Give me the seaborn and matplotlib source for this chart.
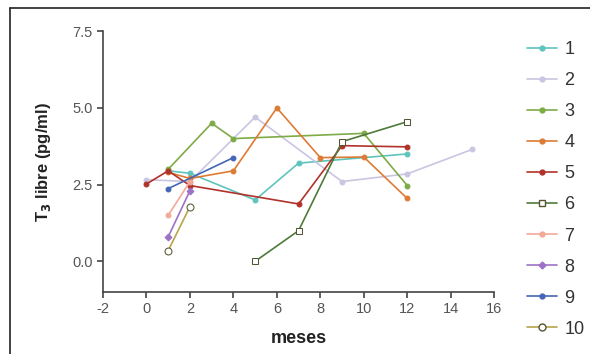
import numpy as np
import pandas as pd
import matplotlib
matplotlib.use("Agg")
import matplotlib.pyplot as plt
import seaborn as sns
from matplotlib.lines import Line2D

sns.set_theme(style="white")
plt.rcParams["font.family"] = ["Liberation Sans", "DejaVu Sans"]
plt.rcParams["axes.unicode_minus"] = False

# --- data ---
labels = ["1", "2", "3", "4", "5", "6", "7", "8", "9", "10"]
x1 = [1, 2, 5, 7, 12];            y1 = [2.95, 2.87, 2.0, 3.2, 3.5]
x2 = [0, 2, 5, 9, 12, 15];        y2 = [2.66, 2.6, 4.7, 2.6, 2.85, 3.65]
x3 = [1, 3, 4, 10, 12];           y3 = [3.0, 4.5, 4.0, 4.17, 2.47]
x4 = [1, 2, 4, 6, 8, 10, 12];     y4 = [2.9, 2.7, 2.95, 5.0, 3.38, 3.4, 2.05]
x5 = [0, 1, 2, 7, 9, 12];         y5 = [2.52, 2.95, 2.47, 1.87, 3.77, 3.73]
x6 = [5, 7, 9, 12];               y6 = [0.0, 1.0, 3.9, 4.55]
x7 = [1, 2];                      y7 = [1.5, 2.6]
x8 = [1, 2];                      y8 = [0.8, 2.3]
x9 = [1, 4];                      y9 = [2.37, 3.38]
x10 = [1, 2];                     y10 = [0.35, 1.78]

xs = [x1, x2, x3, x4, x5, x6, x7, x8, x9, x10]
ys = [y1, y2, y3, y4, y5, y6, y7, y8, y9, y10]

colors = ["#5ec4bd", "#c9c5e2", "#7dab45", "#dd7b35", "#b0322a",
          "#4f7a3a", "#f2a998", "#9d72c4", "#4466b4", "#b8a44a"]
markers = ["o", "o", "o", "o", "o", "s", "o", "D", "o", "o"]
open_marker = [False, False, False, False, False, True, False, False, False, True]


def mstyle(i):
    return dict(marker=markers[i], markersize=5 if open_marker[i] else 3.5,
                markerfacecolor="white" if open_marker[i] else colors[i],
                markeredgecolor="#555533" if open_marker[i] else colors[i])


fig = plt.figure(figsize=(5.9, 3.54), dpi=100)
ax = fig.add_axes([0.1746, 0.175, 0.8375 - 0.1746, 0.912 - 0.175])

for i, lab in enumerate(labels):
    df = pd.DataFrame({"x": xs[i], "y": ys[i]})
    sns.lineplot(data=df, x="x", y="y", ax=ax, color=colors[i], sort=False,
                 estimator=None, linewidth=1.2, label=lab, legend=False, **mstyle(i))

ax.set_xlim(-2, 16)
ax.set_ylim(-1, 7.5)
ax.set_xticks(np.arange(-2, 17, 2))
ax.set_yticks([0.0, 2.5, 5.0, 7.5])
ax.set_yticklabels(["0.0", "2.5", "5.0", "7.5"])
for s in ["top", "right"]:
    ax.spines[s].set_visible(False)
for s in ["left", "bottom"]:
    ax.spines[s].set_color("#444444")
    ax.spines[s].set_linewidth(1.2)
ax.tick_params(axis="both", direction="out", length=4, width=1.2, color="#444444",
               labelsize=10.5, labelcolor="#555555", left=True, bottom=True)
ax.set_xlabel("meses", fontsize=13, fontweight="bold", color="#222222", labelpad=10)
ax.set_ylabel("T$_\\mathbf{3}$ libre (pg/ml)", fontsize=12, fontweight="bold",
              color="#222222", labelpad=14)

handles = [Line2D([0], [0], color=colors[i], linewidth=1.2, **mstyle(i))
           for i in range(len(labels))]
fig.legend(handles, labels, loc="upper left", bbox_to_anchor=(0.865, 0.93),
           frameon=False, fontsize=13, labelcolor="#333333", handlelength=1.7,
           labelspacing=0.78, handletextpad=0.4)

# frame lines of the original scan
fig.add_artist(Line2D([0.017, 1.0], [0.977, 0.977], color="#222222", linewidth=1.2))
fig.add_artist(Line2D([0.017, 0.017], [0.0, 0.977], color="#222222", linewidth=1.2))

fig.savefig("out.png", dpi=100)
